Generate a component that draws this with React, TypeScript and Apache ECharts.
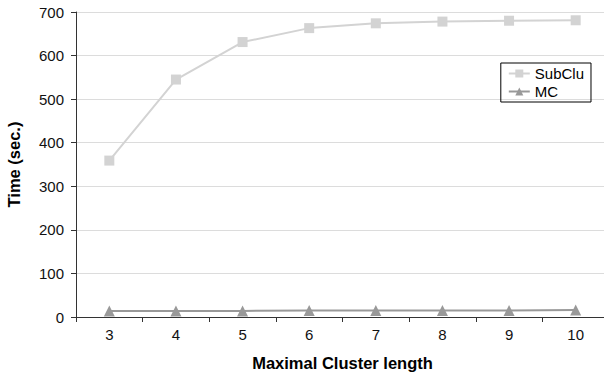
import React, { useEffect, useRef } from "react";
import * as echarts from "echarts";

const categories = ["3", "4", "5", "6", "7", "8", "9", "10"];
const subCluValues = [359, 545, 631, 663, 674, 678, 680, 681];
const mcValues = [14, 14, 14, 15, 15, 15, 15, 16];
const yTicks = [0, 100, 200, 300, 400, 500, 600, 700];

export default function App() {
  const ref = useRef<HTMLDivElement>(null);
  useEffect(() => {
    if (!ref.current) return;
    const chart = echarts.init(ref.current, undefined, { renderer: "svg" });
    const font = "'Liberation Sans', Arial, sans-serif";
    chart.setOption({
      animation: false,
      textStyle: { fontFamily: font },
      grid: { left: 76, width: 533, top: 12, bottom: 56, containLabel: false, outerBoundsMode: "none" },
      legend: {
        orient: "vertical",
        right: 13,
        top: 63,
        borderColor: "#000",
        borderWidth: 1,
        borderRadius: 0,
        padding: [3, 7, 3, 7],
        itemGap: 3,
        itemWidth: 21,
        itemHeight: 10,
        textStyle: { fontSize: 15, color: "#000", fontFamily: font },
        data: ["SubClu", "MC"],
      },
      xAxis: {
        type: "category",
        data: categories,
        boundaryGap: true,
        name: "Maximal Cluster length",
        nameLocation: "middle",
        nameGap: 37,
        nameTextStyle: { fontSize: 16.5, fontWeight: "bold", color: "#000", fontFamily: font },
        axisLine: { lineStyle: { color: "#333", width: 1 } },
        axisTick: { show: true, length: 5, lineStyle: { color: "#333" } },
        axisLabel: { fontSize: 15, color: "#111", margin: 10, fontFamily: font },
      },
      yAxis: {
        type: "value",
        min: 0,
        max: 700,
        interval: 100,
        name: "Time (sec.)",
        nameLocation: "middle",
        nameGap: 54,
        nameTextStyle: { fontSize: 16.5, fontWeight: "bold", color: "#000", fontFamily: font },
        axisLine: { show: true, lineStyle: { color: "#333", width: 1 } },
        axisTick: { show: true, length: 5, lineStyle: { color: "#333" } },
        axisLabel: {
          fontSize: 15,
          color: "#111",
          margin: 12,
          fontFamily: font,
          formatter: (v: number) => (yTicks.includes(v) ? String(v) : ""),
        },
        splitLine: { lineStyle: { color: "#dcdcdc", width: 1 } },
      },
      series: [
        {
          name: "SubClu",
          type: "line",
          data: subCluValues,
          symbol: "rect",
          symbolSize: 10,
          lineStyle: { color: "#d3d3d3", width: 2 },
          itemStyle: { color: "#d3d3d3" },
        },
        {
          name: "MC",
          type: "line",
          data: mcValues,
          symbol: "triangle",
          symbolSize: 11,
          lineStyle: { color: "#999999", width: 2 },
          itemStyle: { color: "#999999" },
        },
      ],
    });
    return () => chart.dispose();
  }, []);
  return <div ref={ref} style={{ width: 604, height: 373, position: "absolute", left: 0, top: 0 }} />;
}
